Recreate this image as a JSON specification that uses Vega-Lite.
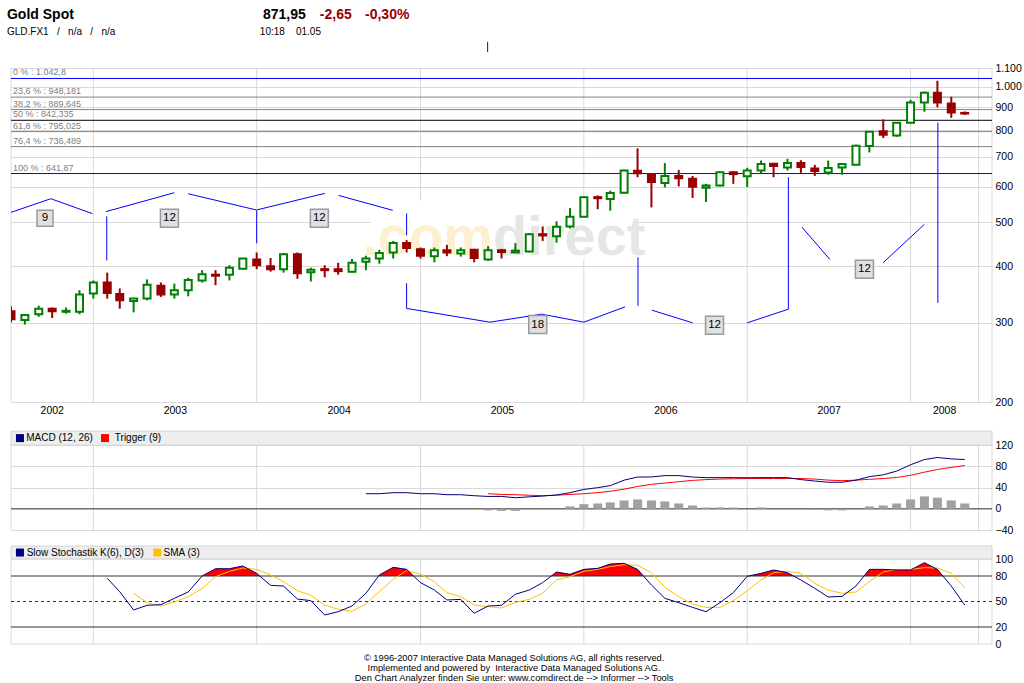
{
  "$schema": "https://vega.github.io/schema/vega-lite/v6.json",
  "padding": {"left": 6, "top": 0, "right": 0, "bottom": 0},
  "background": "#ffffff",
  "spacing": 16,
  "bounds": "flush",
  "config": {
    "font": "Liberation Sans",
    "view": {"stroke": null},
    "scale": {"continuousPadding": 0},
    "axis": {"labelFont": "Liberation Sans", "labelColor": "#000000"},
    "title": {"font": "Liberation Sans"}
  },
  "title": {
    "text": [
      "© 1996-2007 Interactive Data Managed Solutions AG, all rights reserved.",
      "Implemented and powered by \u00a0Interactive Data Managed Solutions AG.",
      "Den Chart Analyzer finden Sie unter: www.comdirect.de --> Informer --> Tools"
    ],
    "orient": "bottom",
    "anchor": "middle",
    "fontSize": 9.3,
    "fontWeight": "normal",
    "color": "#000000",
    "lineHeight": 10,
    "offset": 4
  },
  "datasets": {
    "px": [
      {"d": "2002-07-01", "o": 318, "h": 326, "l": 300, "c": 305},
      {"d": "2002-08-01", "o": 304, "h": 313, "l": 297, "c": 312},
      {"d": "2002-09-01", "o": 313, "h": 327, "l": 309, "c": 322},
      {"d": "2002-10-01", "o": 322, "h": 324, "l": 307, "c": 318},
      {"d": "2002-11-01", "o": 317, "h": 324, "l": 314, "c": 318.5},
      {"d": "2002-12-01", "o": 317, "h": 354, "l": 313, "c": 346},
      {"d": "2003-01-01", "o": 348, "h": 372, "l": 339, "c": 368},
      {"d": "2003-02-01", "o": 368, "h": 387, "l": 339, "c": 349},
      {"d": "2003-03-01", "o": 347, "h": 357, "l": 322, "c": 336},
      {"d": "2003-04-01", "o": 335, "h": 340, "l": 316, "c": 339},
      {"d": "2003-05-01", "o": 339, "h": 374, "l": 336, "c": 364},
      {"d": "2003-06-01", "o": 362, "h": 368, "l": 342, "c": 346},
      {"d": "2003-07-01", "o": 346, "h": 366, "l": 339, "c": 354},
      {"d": "2003-08-01", "o": 354, "h": 377, "l": 343, "c": 373},
      {"d": "2003-09-01", "o": 372, "h": 392, "l": 368, "c": 384},
      {"d": "2003-10-01", "o": 383, "h": 392, "l": 363, "c": 381},
      {"d": "2003-11-01", "o": 383, "h": 402, "l": 372, "c": 397},
      {"d": "2003-12-01", "o": 395, "h": 417, "l": 394, "c": 416},
      {"d": "2004-01-01", "o": 414, "h": 429, "l": 394, "c": 402},
      {"d": "2004-02-01", "o": 400, "h": 417, "l": 389, "c": 394},
      {"d": "2004-03-01", "o": 394, "h": 428, "l": 387, "c": 425},
      {"d": "2004-04-01", "o": 425, "h": 429, "l": 375, "c": 386},
      {"d": "2004-05-01", "o": 388, "h": 397, "l": 370, "c": 393},
      {"d": "2004-06-01", "o": 394, "h": 402, "l": 378, "c": 392},
      {"d": "2004-07-01", "o": 394, "h": 407, "l": 383, "c": 390},
      {"d": "2004-08-01", "o": 389, "h": 415, "l": 387, "c": 407},
      {"d": "2004-09-01", "o": 409, "h": 422, "l": 392, "c": 416},
      {"d": "2004-10-01", "o": 416, "h": 435, "l": 405, "c": 428},
      {"d": "2004-11-01", "o": 429, "h": 455, "l": 416, "c": 450},
      {"d": "2004-12-01", "o": 450, "h": 457, "l": 429, "c": 439},
      {"d": "2005-01-01", "o": 436, "h": 440, "l": 416, "c": 422},
      {"d": "2005-02-01", "o": 421, "h": 440, "l": 408, "c": 434},
      {"d": "2005-03-01", "o": 434, "h": 446, "l": 421, "c": 429},
      {"d": "2005-04-01", "o": 427, "h": 440, "l": 420, "c": 434},
      {"d": "2005-05-01", "o": 435, "h": 437, "l": 408, "c": 417},
      {"d": "2005-06-01", "o": 414, "h": 443, "l": 411, "c": 434},
      {"d": "2005-07-01", "o": 434, "h": 437, "l": 416, "c": 430},
      {"d": "2005-08-01", "o": 429, "h": 450, "l": 429, "c": 433},
      {"d": "2005-09-01", "o": 431, "h": 474, "l": 429, "c": 471},
      {"d": "2005-10-01", "o": 471, "h": 490, "l": 455, "c": 468},
      {"d": "2005-11-01", "o": 466, "h": 503, "l": 451, "c": 489},
      {"d": "2005-12-01", "o": 490, "h": 538, "l": 485, "c": 515},
      {"d": "2006-01-01", "o": 515, "h": 571, "l": 513, "c": 569},
      {"d": "2006-02-01", "o": 569, "h": 574, "l": 535, "c": 566},
      {"d": "2006-03-01", "o": 564, "h": 588, "l": 531, "c": 581},
      {"d": "2006-04-01", "o": 582, "h": 655, "l": 580, "c": 652},
      {"d": "2006-05-01", "o": 651, "h": 730, "l": 630, "c": 643},
      {"d": "2006-06-01", "o": 640, "h": 642, "l": 540, "c": 615},
      {"d": "2006-07-01", "o": 612, "h": 677, "l": 598, "c": 634},
      {"d": "2006-08-01", "o": 634, "h": 654, "l": 601, "c": 627},
      {"d": "2006-09-01", "o": 625, "h": 634, "l": 567, "c": 600},
      {"d": "2006-10-01", "o": 597, "h": 609, "l": 555, "c": 604},
      {"d": "2006-11-01", "o": 604, "h": 649, "l": 601, "c": 646},
      {"d": "2006-12-01", "o": 646, "h": 649, "l": 609, "c": 640},
      {"d": "2007-01-01", "o": 633, "h": 661, "l": 599, "c": 652},
      {"d": "2007-02-01", "o": 652, "h": 686, "l": 642, "c": 674},
      {"d": "2007-03-01", "o": 675, "h": 677, "l": 630, "c": 667},
      {"d": "2007-04-01", "o": 662, "h": 692, "l": 652, "c": 677},
      {"d": "2007-05-01", "o": 677, "h": 687, "l": 644, "c": 664},
      {"d": "2007-06-01", "o": 659, "h": 671, "l": 634, "c": 650},
      {"d": "2007-07-01", "o": 645, "h": 686, "l": 638, "c": 660},
      {"d": "2007-08-01", "o": 662, "h": 677, "l": 638, "c": 674},
      {"d": "2007-09-01", "o": 671, "h": 744, "l": 669, "c": 740},
      {"d": "2007-10-01", "o": 739, "h": 797, "l": 715, "c": 794},
      {"d": "2007-11-01", "o": 797, "h": 846, "l": 769, "c": 782},
      {"d": "2007-12-01", "o": 779, "h": 835, "l": 774, "c": 832},
      {"d": "2008-01-01", "o": 832, "h": 935, "l": 829, "c": 922},
      {"d": "2008-02-01", "o": 922, "h": 976, "l": 880, "c": 970},
      {"d": "2008-03-01", "o": 970, "h": 1031, "l": 900, "c": 922},
      {"d": "2008-04-01", "o": 918, "h": 950, "l": 853, "c": 876},
      {"d": "2008-05-01", "o": 874.6, "h": 881, "l": 866, "c": 871.95}
    ],
    "ind": [
      {"d": "2003-02-01", "k": 77.3},
      {"d": "2003-03-01", "k": 61.5},
      {"d": "2003-04-01", "k": 40, "sd": 59.6},
      {"d": "2003-05-01", "k": 45.5, "sd": 48.6},
      {"d": "2003-06-01", "k": 46.3, "sd": 44.7},
      {"d": "2003-07-01", "k": 53.7, "sd": 49.4},
      {"d": "2003-08-01", "k": 61.2, "sd": 55.7},
      {"d": "2003-09-01", "k": 80, "sd": 65.1},
      {"d": "2003-10-01", "k": 88.6, "sd": 79.2},
      {"d": "2003-11-01", "k": 88.6, "sd": 85.5},
      {"d": "2003-12-01", "k": 91.8, "sd": 89.4},
      {"d": "2004-01-01", "k": 83.1, "sd": 87.8},
      {"d": "2004-02-01", "k": 69, "sd": 81.2},
      {"d": "2004-03-01", "k": 68.2, "sd": 73.3},
      {"d": "2004-04-01", "k": 52.9, "sd": 62.7},
      {"d": "2004-05-01", "k": 51, "sd": 57.3},
      {"d": "2004-06-01", "k": 34.1, "sd": 45.9},
      {"d": "2004-07-01", "k": 38, "sd": 40.8},
      {"d": "2004-08-01", "k": 44.7, "sd": 38.4},
      {"d": "2004-09-01", "k": 59.6, "sd": 47, "macd": 28.4},
      {"d": "2004-10-01", "k": 81.2, "sd": 61.5, "macd": 28.4},
      {"d": "2004-11-01", "k": 90.2, "sd": 76.1, "macd": 30.3},
      {"d": "2004-12-01", "k": 87.8, "sd": 86.3, "macd": 30.3},
      {"d": "2005-01-01", "k": 72.2, "sd": 82, "macd": 28.4},
      {"d": "2005-02-01", "k": 63.5, "sd": 73.3, "macd": 28.4},
      {"d": "2005-03-01", "k": 51.8, "sd": 60.4, "macd": 26.5},
      {"d": "2005-04-01", "k": 52.5, "sd": 55.7, "macd": 26.5},
      {"d": "2005-05-01", "k": 36.1, "sd": 45.9, "macd": 24.6},
      {"d": "2005-06-01", "k": 44.7, "sd": 43.9, "macd": 23.3, "trig": 28.4, "hist": -3},
      {"d": "2005-07-01", "k": 45.5, "sd": 42.4, "macd": 23.3, "trig": 27, "hist": -4},
      {"d": "2005-08-01", "k": 58.5, "sd": 49, "macd": 20.8, "trig": 26.5, "hist": -4},
      {"d": "2005-09-01", "k": 63.5, "sd": 52.5, "macd": 22.5, "trig": 25.5},
      {"d": "2005-10-01", "k": 72.2, "sd": 59.6, "macd": 24, "trig": 24.6},
      {"d": "2005-11-01", "k": 84.7, "sd": 75.3, "macd": 26, "trig": 25.5},
      {"d": "2005-12-01", "k": 82, "sd": 79.2, "macd": 30.3, "trig": 27, "hist": 4.5},
      {"d": "2006-01-01", "k": 87.8, "sd": 85.5, "macd": 36.5, "trig": 28.4, "hist": 8.7},
      {"d": "2006-02-01", "k": 89, "sd": 87.8, "macd": 39.8, "trig": 30.5, "hist": 10},
      {"d": "2006-03-01", "k": 94.1, "sd": 91, "macd": 43.6, "trig": 33, "hist": 12},
      {"d": "2006-04-01", "k": 94.9, "sd": 93.3, "macd": 54, "trig": 37, "hist": 15.7},
      {"d": "2006-05-01", "k": 87.8, "sd": 92.6, "macd": 59.8, "trig": 42, "hist": 17.6},
      {"d": "2006-06-01", "k": 69.4, "sd": 83.9, "macd": 60, "trig": 46, "hist": 15.7},
      {"d": "2006-07-01", "k": 53.7, "sd": 66.7, "macd": 62.5, "trig": 48.5, "hist": 13.8},
      {"d": "2006-08-01", "k": 48.6, "sd": 55.7, "macd": 62.5, "trig": 51, "hist": 10},
      {"d": "2006-09-01", "k": 43.1, "sd": 47, "macd": 59.8, "trig": 53.5, "hist": 6.2},
      {"d": "2006-10-01", "k": 38, "sd": 43.1, "macd": 58.7, "trig": 55, "hist": 2.5},
      {"d": "2006-11-01", "k": 48.6, "sd": 43.1, "macd": 58.7, "trig": 56, "hist": 2.5},
      {"d": "2006-12-01", "k": 60.4, "sd": 51, "macd": 58.7, "trig": 56.5, "hist": 2.5},
      {"d": "2007-01-01", "k": 79.6, "sd": 62.7, "macd": 58.5, "trig": 57},
      {"d": "2007-02-01", "k": 83.1, "sd": 75.3, "macd": 58.7, "trig": 57, "hist": 2.5},
      {"d": "2007-03-01", "k": 87.1, "sd": 83.9, "macd": 58.7, "trig": 57},
      {"d": "2007-04-01", "k": 83.9, "sd": 85.5, "macd": 58.7, "trig": 57},
      {"d": "2007-05-01", "k": 75.3, "sd": 83.1, "macd": 55, "trig": 57},
      {"d": "2007-06-01", "k": 65.5, "sd": 71.4, "macd": 52.3, "trig": 56, "hist": -1.5},
      {"d": "2007-07-01", "k": 55.3, "sd": 63.5, "macd": 50, "trig": 54, "hist": -3},
      {"d": "2007-08-01", "k": 56.1, "sd": 59.6, "macd": 50, "trig": 53, "hist": -3},
      {"d": "2007-09-01", "k": 68.2, "sd": 61.2, "macd": 54, "trig": 54},
      {"d": "2007-10-01", "k": 87.8, "sd": 73.3, "macd": 60.5, "trig": 55.5, "hist": 4.5},
      {"d": "2007-11-01", "k": 87.8, "sd": 84.7, "macd": 64, "trig": 57, "hist": 6.2},
      {"d": "2007-12-01", "k": 87.1, "sd": 87.8, "macd": 71, "trig": 59, "hist": 10},
      {"d": "2008-01-01", "k": 87.1, "sd": 87.8, "macd": 83, "trig": 63, "hist": 17.6},
      {"d": "2008-02-01", "k": 95.7, "sd": 89.8, "macd": 92.8, "trig": 69, "hist": 23.3},
      {"d": "2008-03-01", "k": 87.8, "sd": 89.4, "macd": 96.6, "trig": 74, "hist": 21},
      {"d": "2008-04-01", "k": 68.2, "sd": 83.1, "macd": 94, "trig": 78, "hist": 15.7},
      {"d": "2008-05-01", "k": 45.9, "sd": 66.3, "macd": 92.8, "trig": 81.4, "hist": 10}
    ],
    "vg": [
      {"d": "2002-07-01"}, {"d": "2003-01-01"}, {"d": "2004-01-01"}, {"d": "2005-01-01"},
      {"d": "2006-01-01"}, {"d": "2007-01-01"}, {"d": "2008-01-01"}, {"d": "2008-06-01"}, {"d": "2008-07-01"}
    ],
    "fib": [
      {"lab": "0 % : 1.042,8", "v": 1042.8, "k": "end"},
      {"lab": "23,6 % : 948,181", "v": 948.181, "k": "mid"},
      {"lab": "38,2 % : 889,645", "v": 889.645, "k": "mid"},
      {"lab": "50 % : 842,335", "v": 842.335, "k": "half"},
      {"lab": "61,8 % : 795,025", "v": 795.025, "k": "mid"},
      {"lab": "76,4 % : 736,489", "v": 736.489, "k": "mid"},
      {"lab": "100 % : 641,87", "v": 641.87, "k": "end"}
    ],
    "cyc": [
      {"seg": "a1", "d": "2002-07-01", "v": 526.5},
      {"seg": "a1", "d": "2002-09-28", "v": 564.5},
      {"seg": "a1", "d": "2002-12-30", "v": 523},
      {"seg": "a2a", "d": "2003-01-29", "v": 528.4},
      {"seg": "a2a", "d": "2003-07-01", "v": 582},
      {"seg": "a2b", "d": "2003-08-01", "v": 579},
      {"seg": "a2b", "d": "2003-12-31", "v": 533},
      {"seg": "a3a", "d": "2004-01-01", "v": 533},
      {"seg": "a3a", "d": "2004-06-01", "v": 580},
      {"seg": "a3b", "d": "2004-07-02", "v": 574},
      {"seg": "a3b", "d": "2004-10-31", "v": 532},
      {"seg": "v1", "d": "2003-01-31", "v": 516},
      {"seg": "v1", "d": "2003-01-31", "v": 412},
      {"seg": "v2", "d": "2004-01-01", "v": 532},
      {"seg": "v2", "d": "2004-01-01", "v": 449.6},
      {"seg": "v3a", "d": "2004-12-01", "v": 523.8},
      {"seg": "v3a", "d": "2004-12-01", "v": 468.3},
      {"seg": "v3b", "d": "2004-12-01", "v": 366.7},
      {"seg": "v3b", "d": "2004-12-01", "v": 322.4},
      {"seg": "b18", "d": "2004-12-01", "v": 322.4},
      {"seg": "b18", "d": "2005-06-05", "v": 300.6},
      {"seg": "b18", "d": "2005-09-29", "v": 313.1},
      {"seg": "b18", "d": "2006-01-01", "v": 300.6},
      {"seg": "b18", "d": "2006-04-03", "v": 325},
      {"seg": "v4", "d": "2006-05-02", "v": 418.6},
      {"seg": "v4", "d": "2006-05-02", "v": 326.7},
      {"seg": "b12a", "d": "2006-06-02", "v": 319.6},
      {"seg": "b12a", "d": "2006-09-01", "v": 299.6},
      {"seg": "b12b", "d": "2007-01-01", "v": 299.6},
      {"seg": "b12b", "d": "2007-04-03", "v": 321.2},
      {"seg": "v5", "d": "2007-04-03", "v": 630.2},
      {"seg": "v5", "d": "2007-04-03", "v": 321.2},
      {"seg": "c12a", "d": "2007-05-03", "v": 488.5},
      {"seg": "c12a", "d": "2007-07-05", "v": 413.8},
      {"seg": "c12b", "d": "2007-11-01", "v": 407.5},
      {"seg": "c12b", "d": "2008-02-01", "v": 495.3},
      {"seg": "v6", "d": "2008-03-02", "v": 832.8},
      {"seg": "v6", "d": "2008-03-02", "v": 331.7}
    ],
    "cbox": [
      {"n": "9", "d": "2002-09-15", "v": 511},
      {"n": "12", "d": "2003-06-20", "v": 511},
      {"n": "12", "d": "2004-05-20", "v": 511},
      {"n": "18", "d": "2005-09-20", "v": 297},
      {"n": "12", "d": "2006-10-20", "v": 296},
      {"n": "12", "d": "2007-09-20", "v": 394}
    ]
  },
  "vconcat": [
    {
      "width": 981,
      "height": 52,
      "resolve": {"axis": {"x": "independent", "y": "independent"}},
      "layer": [
        {
          "data": {"values": [{"t": "Gold Spot"}]},
          "mark": {"type": "text", "align": "left", "baseline": "middle", "fontSize": 14, "fontWeight": "bold", "color": "#000000"},
          "encoding": {
            "x": {"datum": {"year": 2002, "month": 6, "date": 22}, "type": "temporal", "scale": {"domain": [{"year": 2002, "month": 7, "date": 1}, {"year": 2008, "month": 7, "date": 1}]}, "axis": null},
            "y": {"datum": 1, "type": "quantitative", "scale": {"domain": [0.09, 3.24], "reverse": true, "nice": false, "zero": false}, "axis": null},
            "text": {"field": "t"}
          }
        },
        {
          "data": {"values": [{"t": "GLD.FX1 \u00a0 / \u00a0 n/a \u00a0 / \u00a0 n/a"}]},
          "mark": {"type": "text", "align": "left", "baseline": "middle", "fontSize": 10, "color": "#000000"},
          "encoding": {
            "x": {"datum": {"year": 2002, "month": 6, "date": 22}, "type": "temporal", "axis": null},
            "y": {"datum": 2, "type": "quantitative", "axis": null},
            "text": {"field": "t"}
          }
        },
        {
          "data": {"values": [{"t": "871,95"}]},
          "mark": {"type": "text", "align": "left", "baseline": "middle", "fontSize": 14, "fontWeight": "bold", "color": "#000000"},
          "encoding": {
            "x": {"datum": {"year": 2004, "month": 1, "date": 15}, "type": "temporal", "axis": null},
            "y": {"datum": 1, "type": "quantitative", "axis": null},
            "text": {"field": "t"}
          }
        },
        {
          "data": {"values": [{"t": "-2,65"}]},
          "mark": {"type": "text", "align": "left", "baseline": "middle", "fontSize": 14, "fontWeight": "bold", "color": "#990000"},
          "encoding": {
            "x": {"datum": {"year": 2004, "month": 5, "date": 21}, "type": "temporal", "axis": null},
            "y": {"datum": 1, "type": "quantitative", "axis": null},
            "text": {"field": "t"}
          }
        },
        {
          "data": {"values": [{"t": "-0,30%"}]},
          "mark": {"type": "text", "align": "left", "baseline": "middle", "fontSize": 14, "fontWeight": "bold", "color": "#990000"},
          "encoding": {
            "x": {"datum": {"year": 2004, "month": 8, "date": 30}, "type": "temporal", "axis": null},
            "y": {"datum": 1, "type": "quantitative", "axis": null},
            "text": {"field": "t"}
          }
        },
        {
          "data": {"values": [{"t": "10:18 \u00a0 \u00a001.05"}]},
          "mark": {"type": "text", "align": "left", "baseline": "middle", "fontSize": 10, "color": "#000000"},
          "encoding": {
            "x": {"datum": {"year": 2004, "month": 1, "date": 8}, "type": "temporal", "axis": null},
            "y": {"datum": 2, "type": "quantitative", "axis": null},
            "text": {"field": "t"}
          }
        },
        {
          "data": {"values": [{}]},
          "mark": {"type": "rule", "color": "#0000ff", "strokeWidth": 1},
          "encoding": {
            "x": {"datum": {"year": 2005, "month": 5, "date": 31}, "type": "temporal", "axis": null},
            "y": {"datum": 2.63, "type": "quantitative", "axis": null},
            "y2": {"datum": 3.24}
          }
        }
      ]
    },
    {
      "width": 981,
      "height": 334,
      "resolve": {"axis": {"x": "independent", "y": "independent"}},
      "layer": [
        {
          "data": {"name": "vg"},
          "mark": {"type": "rule", "color": "#d9d9d9", "strokeWidth": 1},
          "encoding": {
            "x": {
              "field": "d", "type": "temporal", "title": null,
              "scale": {"domain": [{"year": 2002, "month": 7, "date": 1}, {"year": 2008, "month": 7, "date": 1}], "padding": 0},
              "axis": {
                "orient": "bottom",
                "values": [
                  {"year": 2002, "month": 9, "date": 30},
                  {"year": 2003, "month": 7, "date": 2},
                  {"year": 2004, "month": 7, "date": 2},
                  {"year": 2005, "month": 7, "date": 2},
                  {"year": 2006, "month": 7, "date": 2},
                  {"year": 2007, "month": 7, "date": 2},
                  {"year": 2008, "month": 3, "date": 16}
                ],
                "format": "%Y", "grid": false, "ticks": false, "domain": false,
                "labelFontSize": 10.5, "labelPadding": 3, "labelFlush": false, "labelOverlap": false
              }
            }
          }
        },
        {
          "data": {"values": [{}]},
          "mark": {"type": "rect", "fill": "#ffffff"},
          "encoding": {
            "x": {"datum": {"year": 2004, "month": 9, "date": 12}, "type": "temporal", "axis": null},
            "x2": {"datum": {"year": 2006, "month": 5, "date": 3}},
            "y": {"datum": 416, "type": "quantitative", "scale": {"type": "log", "domain": [200, 1100], "nice": false}, "axis": null},
            "y2": {"datum": 560}
          }
        },
        {
          "data": {"values": [{"t": ".com"}]},
          "mark": {"type": "text", "align": "right", "baseline": "alphabetic", "fontSize": 56, "fontWeight": "bold", "color": "#fdefcf"},
          "encoding": {
            "x": {"datum": {"year": 2005, "month": 6, "date": 12}, "type": "temporal", "axis": null},
            "y": {"datum": 423, "type": "quantitative", "axis": null},
            "text": {"field": "t"}
          }
        },
        {
          "data": {"values": [{"t": "direct"}]},
          "mark": {"type": "text", "align": "left", "baseline": "alphabetic", "fontSize": 56, "fontWeight": "bold", "color": "#e6e6e3"},
          "encoding": {
            "x": {"datum": {"year": 2005, "month": 6, "date": 12}, "type": "temporal", "axis": null},
            "y": {"datum": 423, "type": "quantitative", "axis": null},
            "text": {"field": "t"}
          }
        },
        {
          "data": {"name": "fib"},
          "mark": {"type": "rule", "strokeWidth": 1},
          "encoding": {
            "y": {"field": "v", "type": "quantitative", "axis": null},
            "color": {"field": "k", "type": "nominal", "legend": null, "scale": {"domain": ["end", "mid", "half"], "range": ["#0000ff", "#808080", "#000000"]}}
          }
        },
        {
          "data": {"name": "fib"},
          "mark": {"type": "text", "align": "left", "baseline": "bottom", "dx": 2, "dy": -1, "fontSize": 9, "color": "#808080"},
          "encoding": {
            "x": {"datum": {"year": 2002, "month": 7, "date": 1}, "type": "temporal", "axis": null},
            "y": {"field": "v", "type": "quantitative", "axis": null},
            "text": {"field": "lab"}
          }
        },
        {
          "data": {"name": "cyc"},
          "mark": {"type": "line", "color": "#0000ff", "strokeWidth": 1},
          "encoding": {
            "x": {"field": "d", "type": "temporal", "axis": null},
            "y": {"field": "v", "type": "quantitative", "axis": null},
            "detail": {"field": "seg"}
          }
        },
        {
          "data": {"name": "cbox"},
          "mark": {"type": "square", "fill": "#e0e0e0", "stroke": "#9a9a9a", "strokeWidth": 1.5, "opacity": 1},
          "encoding": {
            "x": {"field": "d", "type": "temporal", "axis": null},
            "y": {"field": "v", "type": "quantitative", "axis": null},
            "size": {"condition": {"test": "datum.n == '9'", "value": 256}, "value": 324}
          }
        },
        {
          "data": {"name": "cbox"},
          "mark": {"type": "text", "align": "center", "baseline": "middle", "fontSize": 11.5, "color": "#000000"},
          "encoding": {
            "x": {"field": "d", "type": "temporal", "axis": null},
            "y": {"field": "v", "type": "quantitative", "axis": null},
            "text": {"field": "n"}
          }
        },
        {
          "data": {"name": "px"},
          "mark": {"type": "rule", "strokeWidth": 2, "clip": true},
          "encoding": {
            "x": {"field": "d", "type": "temporal", "axis": null},
            "y": {
              "field": "l", "type": "quantitative", "title": null,
              "scale": {"type": "log", "domain": [200, 1100], "nice": false},
              "axis": {
                "orient": "right",
                "values": [200, 300, 400, 500, 600, 700, 800, 900, 1000, 1100],
                "labelExpr": "replace(format(datum.value, ','), ',', '.')",
                "grid": true, "gridColor": "#d9d9d9", "ticks": false, "domain": false,
                "labelFontSize": 10.5, "labelPadding": 3
              }
            },
            "y2": {"field": "h"},
            "color": {"condition": {"test": "datum.c >= datum.o", "value": "#008000"}, "value": "#990000"}
          }
        },
        {
          "data": {"name": "px"},
          "mark": {"type": "bar", "width": 7, "strokeWidth": 2, "clip": true},
          "encoding": {
            "x": {"field": "d", "type": "temporal", "axis": null},
            "y": {"field": "o", "type": "quantitative", "axis": null},
            "y2": {"field": "c"},
            "fill": {"condition": {"test": "datum.c >= datum.o", "value": "#ffffff"}, "value": "#990000"},
            "stroke": {"condition": {"test": "datum.c >= datum.o", "value": "#008000"}, "value": "#990000"}
          }
        }
      ]
    },
    {
      "width": 981,
      "height": 112,
      "resolve": {"axis": {"x": "independent", "y": "independent"}},
      "layer": [
        {
          "data": {"values": [{}]},
          "mark": {"type": "rect", "fill": "#eeeeee", "stroke": "#d4d4d4", "strokeWidth": 1},
          "encoding": {
            "x": {"datum": {"year": 2002, "month": 7, "date": 1}, "type": "temporal", "scale": {"domain": [{"year": 2002, "month": 7, "date": 1}, {"year": 2008, "month": 7, "date": 1}], "padding": 0}, "axis": null},
            "x2": {"datum": {"year": 2008, "month": 7, "date": 1}},
            "y": {"datum": 120, "type": "quantitative", "scale": {"domain": [-40, 171.1], "nice": false, "zero": false}, "axis": null},
            "y2": {"datum": 146.4}
          }
        },
        {
          "data": {"name": "vg"},
          "mark": {"type": "rule", "color": "#d9d9d9", "strokeWidth": 1},
          "encoding": {
            "x": {"field": "d", "type": "temporal", "axis": null},
            "y": {"datum": -40, "type": "quantitative", "axis": null},
            "y2": {"datum": 120}
          }
        },
        {
          "data": {"values": [{}]},
          "mark": {"type": "rule", "color": "#404040", "strokeWidth": 1},
          "encoding": {
            "y": {"datum": 0, "type": "quantitative", "axis": null}
          }
        },
        {
          "data": {"name": "ind"},
          "mark": {"type": "bar", "width": 9, "color": "#a0a0a0"},
          "encoding": {
            "x": {"field": "d", "type": "temporal", "axis": null},
            "y": {
              "field": "hist", "type": "quantitative", "title": null,
              "axis": {
                "orient": "right", "values": [-40, 0, 40, 80, 120],
                "grid": true, "gridColor": "#d9d9d9", "ticks": false, "domain": false,
                "labelFontSize": 10.5, "labelPadding": 3
              }
            },
            "y2": {"datum": 0}
          }
        },
        {
          "data": {"name": "ind"},
          "mark": {"type": "line", "color": "#ff0000", "strokeWidth": 1},
          "encoding": {
            "x": {"field": "d", "type": "temporal", "axis": null},
            "y": {"field": "trig", "type": "quantitative", "axis": null}
          }
        },
        {
          "data": {"name": "ind"},
          "mark": {"type": "line", "color": "#000080", "strokeWidth": 1},
          "encoding": {
            "x": {"field": "d", "type": "temporal", "axis": null},
            "y": {"field": "macd", "type": "quantitative", "axis": null}
          }
        },
        {
          "data": {"values": [{}]},
          "mark": {"type": "square", "size": 64, "color": "#000080", "opacity": 1},
          "encoding": {
            "x": {"datum": {"year": 2002, "month": 7, "date": 21}, "type": "temporal", "axis": null},
            "y": {"datum": 133.2, "type": "quantitative", "axis": null}
          }
        },
        {
          "data": {"values": [{"t": "MACD (12, 26)"}]},
          "mark": {"type": "text", "align": "left", "baseline": "middle", "fontSize": 10, "color": "#000000"},
          "encoding": {
            "x": {"datum": {"year": 2002, "month": 8, "date": 4}, "type": "temporal", "axis": null},
            "y": {"datum": 133.2, "type": "quantitative", "axis": null},
            "text": {"field": "t"}
          }
        },
        {
          "data": {"values": [{}]},
          "mark": {"type": "square", "size": 64, "color": "#ff0000", "opacity": 1},
          "encoding": {
            "x": {"datum": {"year": 2003, "month": 1, "date": 27}, "type": "temporal", "axis": null},
            "y": {"datum": 133.2, "type": "quantitative", "axis": null}
          }
        },
        {
          "data": {"values": [{"t": "Trigger (9)"}]},
          "mark": {"type": "text", "align": "left", "baseline": "middle", "fontSize": 10, "color": "#000000"},
          "encoding": {
            "x": {"datum": {"year": 2003, "month": 2, "date": 18}, "type": "temporal", "axis": null},
            "y": {"datum": 133.2, "type": "quantitative", "axis": null},
            "text": {"field": "t"}
          }
        }
      ]
    },
    {
      "width": 981,
      "height": 98,
      "resolve": {"axis": {"x": "independent", "y": "independent"}},
      "layer": [
        {
          "data": {"values": [{}]},
          "mark": {"type": "rect", "fill": "#eeeeee", "stroke": "#d4d4d4", "strokeWidth": 1},
          "encoding": {
            "x": {"datum": {"year": 2002, "month": 7, "date": 1}, "type": "temporal", "scale": {"domain": [{"year": 2002, "month": 7, "date": 1}, {"year": 2008, "month": 7, "date": 1}], "padding": 0}, "axis": null},
            "x2": {"datum": {"year": 2008, "month": 7, "date": 1}},
            "y": {"datum": 100, "type": "quantitative", "scale": {"domain": [0, 115.3], "nice": false, "zero": false}, "axis": null},
            "y2": {"datum": 115.3}
          }
        },
        {
          "data": {"name": "vg"},
          "mark": {"type": "rule", "color": "#d9d9d9", "strokeWidth": 1},
          "encoding": {
            "x": {"field": "d", "type": "temporal", "axis": null},
            "y": {"datum": 80, "type": "quantitative", "axis": null},
            "y2": {"datum": 100}
          }
        },
        {
          "data": {"name": "ind"},
          "mark": {"type": "area", "color": "#ff0000", "opacity": 1},
          "encoding": {
            "x": {"field": "d", "type": "temporal", "axis": null},
            "y": {"field": "k", "type": "quantitative", "axis": null},
            "y2": {"datum": 80}
          }
        },
        {
          "data": {"values": [{}]},
          "mark": {"type": "rect", "fill": "#ffffff"},
          "encoding": {
            "x": {"datum": {"year": 2002, "month": 7, "date": 1}, "type": "temporal", "axis": null},
            "x2": {"datum": {"year": 2008, "month": 7, "date": 1}},
            "y": {"datum": 0, "type": "quantitative", "axis": null},
            "y2": {"datum": 80}
          }
        },
        {
          "data": {"name": "vg"},
          "mark": {"type": "rule", "color": "#d9d9d9", "strokeWidth": 1},
          "encoding": {
            "x": {"field": "d", "type": "temporal", "axis": null},
            "y": {"datum": 0, "type": "quantitative", "axis": null},
            "y2": {"datum": 80}
          }
        },
        {
          "data": {"values": [{"lv": 0}, {"lv": 100}]},
          "mark": {"type": "rule", "color": "#d9d9d9", "strokeWidth": 1},
          "encoding": {
            "y": {"field": "lv", "type": "quantitative", "axis": null}
          }
        },
        {
          "data": {"values": [{"lv": 80}, {"lv": 20}]},
          "mark": {"type": "rule", "color": "#333333", "strokeWidth": 1},
          "encoding": {
            "y": {"field": "lv", "type": "quantitative", "axis": null}
          }
        },
        {
          "data": {"values": [{"lv": 50}]},
          "mark": {"type": "rule", "color": "#333333", "strokeWidth": 1, "strokeDash": [3, 3]},
          "encoding": {
            "y": {"field": "lv", "type": "quantitative", "axis": null}
          }
        },
        {
          "data": {"name": "ind"},
          "mark": {"type": "line", "color": "#ffc000", "strokeWidth": 1},
          "encoding": {
            "x": {"field": "d", "type": "temporal", "axis": null},
            "y": {"field": "sd", "type": "quantitative", "axis": null}
          }
        },
        {
          "data": {"name": "ind"},
          "mark": {"type": "line", "color": "#000080", "strokeWidth": 1},
          "encoding": {
            "x": {"field": "d", "type": "temporal", "axis": null},
            "y": {
              "field": "k", "type": "quantitative", "title": null,
              "axis": {
                "orient": "right", "values": [0, 20, 50, 80, 100],
                "grid": false, "ticks": false, "domain": false,
                "labelFontSize": 10.5, "labelPadding": 3
              }
            }
          }
        },
        {
          "data": {"values": [{}]},
          "mark": {"type": "square", "size": 64, "color": "#000080", "opacity": 1},
          "encoding": {
            "x": {"datum": {"year": 2002, "month": 7, "date": 21}, "type": "temporal", "axis": null},
            "y": {"datum": 107.6, "type": "quantitative", "axis": null}
          }
        },
        {
          "data": {"values": [{"t": "Slow Stochastik K(6), D(3)"}]},
          "mark": {"type": "text", "align": "left", "baseline": "middle", "fontSize": 10, "color": "#000000"},
          "encoding": {
            "x": {"datum": {"year": 2002, "month": 8, "date": 5}, "type": "temporal", "axis": null},
            "y": {"datum": 107.6, "type": "quantitative", "axis": null},
            "text": {"field": "t"}
          }
        },
        {
          "data": {"values": [{}]},
          "mark": {"type": "square", "size": 64, "color": "#ffc000", "opacity": 1},
          "encoding": {
            "x": {"datum": {"year": 2003, "month": 5, "date": 24}, "type": "temporal", "axis": null},
            "y": {"datum": 107.6, "type": "quantitative", "axis": null}
          }
        },
        {
          "data": {"values": [{"t": "SMA (3)"}]},
          "mark": {"type": "text", "align": "left", "baseline": "middle", "fontSize": 10, "color": "#000000"},
          "encoding": {
            "x": {"datum": {"year": 2003, "month": 6, "date": 7}, "type": "temporal", "axis": null},
            "y": {"datum": 107.6, "type": "quantitative", "axis": null},
            "text": {"field": "t"}
          }
        }
      ]
    }
  ]
}
